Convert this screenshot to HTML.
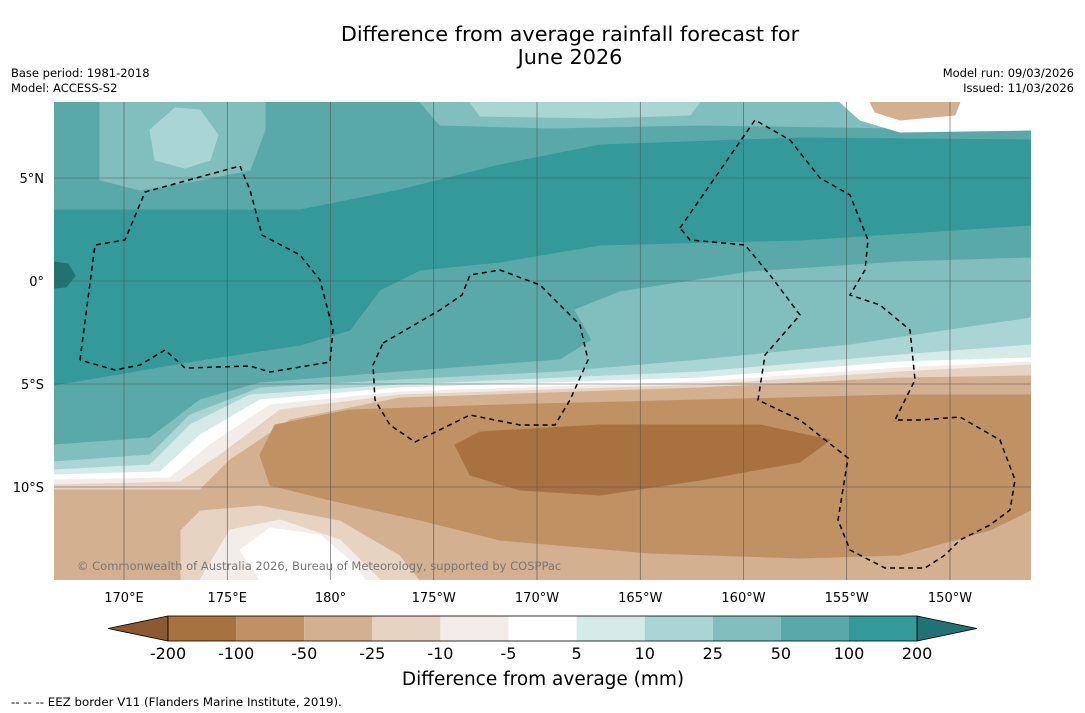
<!DOCTYPE html>
<html><head><meta charset="utf-8"><style>
body{margin:0;background:#fff;width:1085px;height:713px;overflow:hidden;font-family:"DejaVu Sans","Liberation Sans",sans-serif;}
svg{position:absolute;left:0;top:0}
</style></head><body>
<svg width="1085" height="713" font-family="DejaVu Sans, Liberation Sans, sans-serif">
<text x="570" y="41" font-size="20.8" text-anchor="middle">Difference from average rainfall forecast for</text>
<text x="570" y="64" font-size="20.8" text-anchor="middle">June 2026</text>
<text x="11" y="77" font-size="11.5">Base period: 1981-2018</text>
<text x="11" y="92" font-size="11.5">Model: ACCESS-S2</text>
<text x="1074" y="77" font-size="11.5" text-anchor="end">Model run: 09/03/2026</text>
<text x="1074" y="92" font-size="11.5" text-anchor="end">Issued: 11/03/2026</text>
<defs><clipPath id="mc"><rect x="54" y="102" width="977" height="478"/></clipPath></defs>
<g id="map" clip-path="url(#mc)"></g>
<g id="grid"></g>
<g id="eez"></g>
<text x="77" y="570" font-size="11.5" fill="#777">© Commonwealth of Australia 2026, Bureau of Meteorology, supported by COSPPac</text>
<g id="ticks"></g>
<g id="cbar"></g>
<text x="543" y="685" font-size="18.5" text-anchor="middle">Difference from average (mm)</text>
<text x="11" y="706" font-size="11.8">--  --  -- EEZ border V11 (Flanders Marine Institute, 2019).</text>
</svg>
<script>
const levels=["-200","-100","-50","-25","-10","-5","5","10","25","50","100","200"];
const colors=["#a87240","#bf9163","#d3b08f","#e6d3c1","#f2ede8","#ffffff","#d5ebe8","#a9d6d4","#80bfbd","#5aa9a9","#339999"];
const lowColor="#8b5a30", highColor="#217272";
const lonTicks=["170°E","175°E","180°","175°W","170°W","165°W","160°W","155°W","150°W"];
const lonVals=[170,175,180,185,190,195,200,205,210];
const latTicks=["5°N","0°","5°S","10°S"];
const latVals=[5,0,-5,-10];
const NS="http://www.w3.org/2000/svg";
const X=l=>124+(l-170)*20.65, Y=l=>281-l*20.6;
function mk(t,a,p){const e=document.createElementNS(NS,t);for(const k in a)e.setAttribute(k,a[k]);p.appendChild(e);return e;}
const map=document.getElementById('map');
const P=a=>'M'+a.map(p=>p.join(',')).join(' L')+'Z';
const layers=[
 ["#5aa9a9",[[54,102],[1031,102],[1031,580],[54,580]]],
 ["#80bfbd",[[100,102],[265,102],[265,130],[250,170],[200,180],[140,190],[100,180]]],
 ["#a9d6d4",[[150,130],[175,108],[200,110],[218,135],[210,160],[185,168],[155,160]]],
 ["#80bfbd",[[420,102],[1031,102],[1031,125],[900,128],[700,125],[550,128],[440,125]]],
 ["#a9d6d4",[[470,102],[700,102],[690,115],[600,118],[480,116]]],
 ["#ffffff",[[840,102],[1031,102],[1031,130],[900,132],[860,120]]],
 ["#d3b08f",[[870,102],[960,102],[955,115],[900,120],[875,112]]],
 ["#339999",[[54,210],[300,210],[400,190],[500,165],[600,145],[800,138],[1031,140],[1031,225],[800,240],[600,245],[500,262],[420,270],[380,290],[350,330],[300,345],[200,360],[54,385]]],
 ["#217272",[[54,262],[68,264],[75,276],[66,287],[54,288]]],
 ["#80bfbd",[[54,445],[150,438],[200,400],[260,383],[400,372],[560,360],[592,340],[575,310],[620,292],[750,272],[900,262],[1031,258],[1031,580],[54,580]]],
 ["#a9d6d4",[[54,462],[150,455],[190,415],[260,388],[400,380],[560,372],[700,360],[850,345],[950,330],[1031,318],[1031,580],[54,580]]],
 ["#d5ebe8",[[54,470],[150,465],[190,425],[250,395],[400,385],[700,372],[900,355],[1031,345],[1031,580],[54,580]]],
 ["#ffffff",[[54,475],[160,472],[200,435],[260,400],[400,388],[700,378],[900,362],[1031,358],[1031,580],[54,580]]],
 ["#f2ede8",[[54,480],[170,478],[210,445],[270,405],[400,392],[700,382],[900,368],[1031,362],[1031,580],[54,580]]],
 ["#e6d3c1",[[54,485],[180,482],[220,455],[280,410],[400,395],[700,385],[900,372],[1031,365],[1031,580],[54,580]]],
 ["#d3b08f",[[54,490],[200,490],[230,460],[290,420],[400,398],[700,388],[900,378],[1031,376],[1031,580],[420,580],[400,555],[340,520],[260,505],[200,510],[180,530],[180,580],[54,580]]],
 ["#f2ede8",[[200,580],[230,530],[280,520],[340,540],[380,580]]],
 ["#ffffff",[[240,550],[270,528],[320,535],[355,565],[365,580],[260,580]]],
 ["#bf9163",[[260,455],[275,425],[350,410],[500,405],[700,400],[900,395],[1031,395],[1031,510],[990,530],[900,555],[800,558],[650,553],[500,540],[420,520],[330,500],[270,485]]],
 ["#a87240",[[455,445],[480,432],[600,425],[760,425],[830,440],[800,462],[700,480],[600,495],[520,490],[470,475]]]
];
layers.forEach((l,i)=>{const e=mk('path',{d:P(l[1]),fill:l[0],stroke:l[0],'stroke-width':1,'stroke-linejoin':'round'},map);

});
const g=document.getElementById('grid');
lonVals.forEach(v=>mk('line',{x1:X(v),x2:X(v),y1:102,y2:580,stroke:'#555','stroke-width':0.6},g));
latVals.forEach(v=>mk('line',{x1:54,x2:1031,y1:Y(v),y2:Y(v),stroke:'#555','stroke-width':0.6},g));
const eez=document.getElementById('eez');
const eezs=[
[[80,360],[95,245],[125,240],[145,192],[240,166],[250,190],[262,235],[300,255],[320,280],[333,330],[330,362],[270,372],[250,366],[185,368],[165,350],[140,365],[115,370],[80,360]],
[[383,343],[440,310],[462,295],[470,275],[500,270],[540,285],[580,325],[588,360],[570,400],[555,425],[520,425],[470,415],[415,442],[390,425],[375,400],[373,365],[383,343]],
[[680,228],[755,120],[790,140],[820,178],[850,195],[868,240],[865,270],[850,295],[880,305],[910,330],[915,380],[895,420],[920,420],[960,417],[1000,440],[1015,480],[1010,510],[990,525],[960,540],[945,555],[925,568],[885,568],[850,550],[838,520],[848,458],[800,420],[758,400],[765,355],[800,315],[770,275],[745,245],[690,240],[680,228]]];
eezs.forEach(a=>mk('polyline',{points:a.map(p=>p.join(',')).join(' '),fill:'none',stroke:'#000','stroke-width':1.5,'stroke-dasharray':'5,4'},eez));
const t=document.getElementById('ticks');
lonTicks.forEach((s,i)=>{const e=mk('text',{x:X(lonVals[i]),y:602,'font-size':13,'text-anchor':'middle'},t);e.textContent=s;});
latTicks.forEach((s,i)=>{const e=mk('text',{x:44,y:Y(latVals[i])+5,'font-size':13,'text-anchor':'end'},t);e.textContent=s;});
const cb=document.getElementById('cbar');
const cx0=168,cw=68.1,cy=616,ch=25;
mk('polygon',{points:`108,${cy+ch/2} ${cx0},${cy} ${cx0},${cy+ch}`,fill:lowColor,stroke:'#000','stroke-width':0.8},cb);
colors.forEach((c,i)=>mk('rect',{x:cx0+i*cw,y:cy,width:cw,height:ch,fill:c},cb));
const xe=cx0+colors.length*cw;
mk('polygon',{points:`${xe},${cy} 977,${cy+ch/2} ${xe},${cy+ch}`,fill:highColor,stroke:'#000','stroke-width':0.8},cb);
mk('rect',{x:cx0,y:cy,width:xe-cx0,height:ch,fill:'none',stroke:'#000','stroke-width':0.8},cb);
levels.forEach((s,i)=>{const e=mk('text',{x:cx0+i*cw,y:659,'font-size':16,'text-anchor':'middle'},cb);e.textContent=s;});
</script>
</body></html>
